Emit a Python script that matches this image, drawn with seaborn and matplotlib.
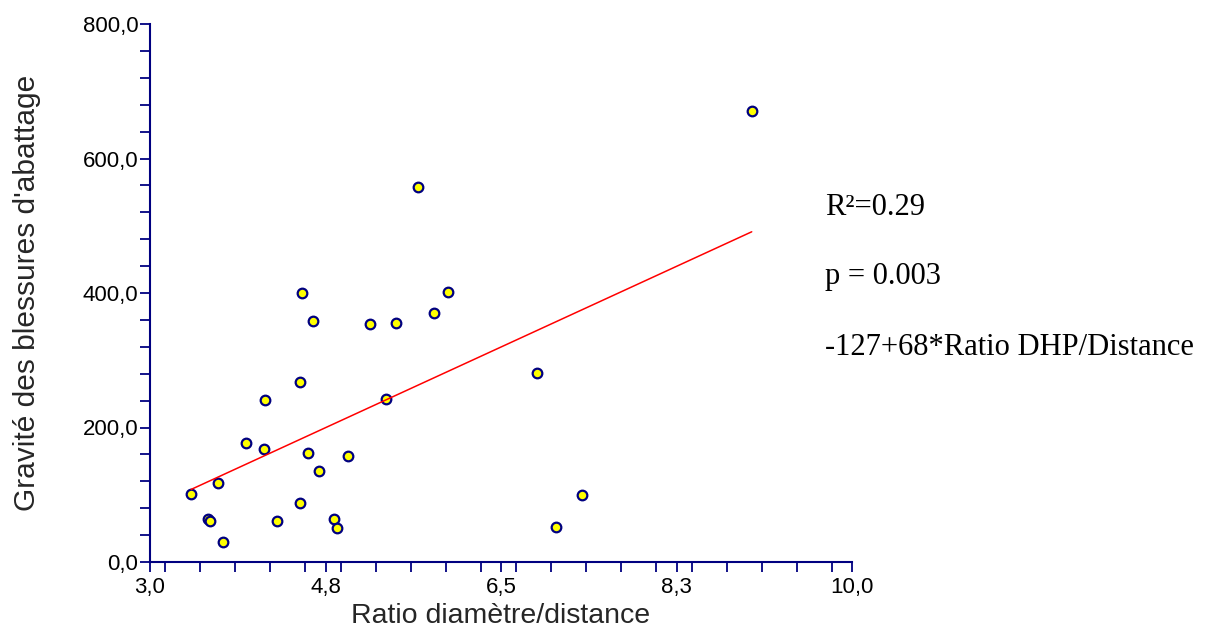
import numpy as np
import pandas as pd
import matplotlib
matplotlib.use("Agg")
import matplotlib.pyplot as plt
from matplotlib.ticker import FixedLocator, MultipleLocator
import seaborn as sns

# ---- data ----
ratio = [3.41, 3.58, 3.60, 3.73, 3.68, 3.96, 4.14, 4.15, 4.27, 4.50,
         4.50, 4.58, 4.69, 4.83, 4.86, 4.97, 5.35, 5.67, 4.52, 4.63,
         5.19, 5.45, 5.83, 5.97, 6.86, 7.31, 7.05, 9.00]
gravite = [101.6, 64, 61, 29, 118, 177, 168, 241, 61, 268,
           88, 162, 136, 64, 50, 157, 243, 558, 400, 359,
           354, 356, 371, 401, 281, 100, 52, 671]

x_tick_labels = ["3,0", "4,8", "6,5", "8,3", "10,0"]
y_tick_labels = ["0,0", "200,0", "400,0", "600,0", "800,0"]
x_label = "Ratio diamètre/distance"
y_label = "Gravité des blessures d'abattage"
annotations = ["R²=0.29", "p = 0.003", "-127+68*Ratio DHP/Distance"]

df = pd.DataFrame({"ratio": ratio, "gravite": gravite})

sns.set_style("ticks")
plt.rcParams["font.family"] = ["Liberation Sans", "DejaVu Sans"]

navy = "#000080"
fig = plt.figure(figsize=(12.06, 6.40), dpi=100)
ax = fig.add_axes([150 / 1206, 1 - 562 / 640, (852 - 150) / 1206, (562 - 24) / 640])

sns.regplot(data=df, x="ratio", y="gravite", ci=None, ax=ax,
            scatter_kws=dict(s=48, color="#FFFF00", edgecolors=navy,
                             linewidths=1.6, alpha=1, zorder=3),
            line_kws=dict(color="#FF0000", linewidth=1.1, zorder=4))

ax.set_xlim(3, 10)
ax.set_ylim(0, 800)

ax.xaxis.set_major_locator(FixedLocator(np.linspace(3, 10, len(x_tick_labels))))
ax.set_xticklabels(x_tick_labels)
ax.xaxis.set_minor_locator(MultipleLocator(0.35))
ax.yaxis.set_major_locator(FixedLocator(np.linspace(0, 800, len(y_tick_labels))))
ax.set_yticklabels(y_tick_labels)
ax.yaxis.set_minor_locator(MultipleLocator(40))

for sp in ["top", "right"]:
    ax.spines[sp].set_visible(False)
for sp in ["left", "bottom"]:
    ax.spines[sp].set_color(navy)
    ax.spines[sp].set_linewidth(1.5)

ax.tick_params(axis="both", which="both", direction="out", length=7.5,
               width=1.3, color=navy, labelcolor="black", labelsize=16)
ax.tick_params(axis="y", which="major", pad=1)
ax.tick_params(axis="x", which="major", pad=3)

ax.set_xlabel(x_label, fontsize=20.5, labelpad=4)
ax.set_ylabel(y_label, fontsize=21.5, labelpad=30)

serif = ["Liberation Serif", "DejaVu Serif"]
ypos = [215, 284, 355]
for txt, yp in zip(annotations, ypos):
    fig.text(825 / 1206, 1 - yp / 640, txt, family=serif, fontsize=22,
             ha="left", va="baseline", color="black")

fig.savefig("out.png", dpi=100)
